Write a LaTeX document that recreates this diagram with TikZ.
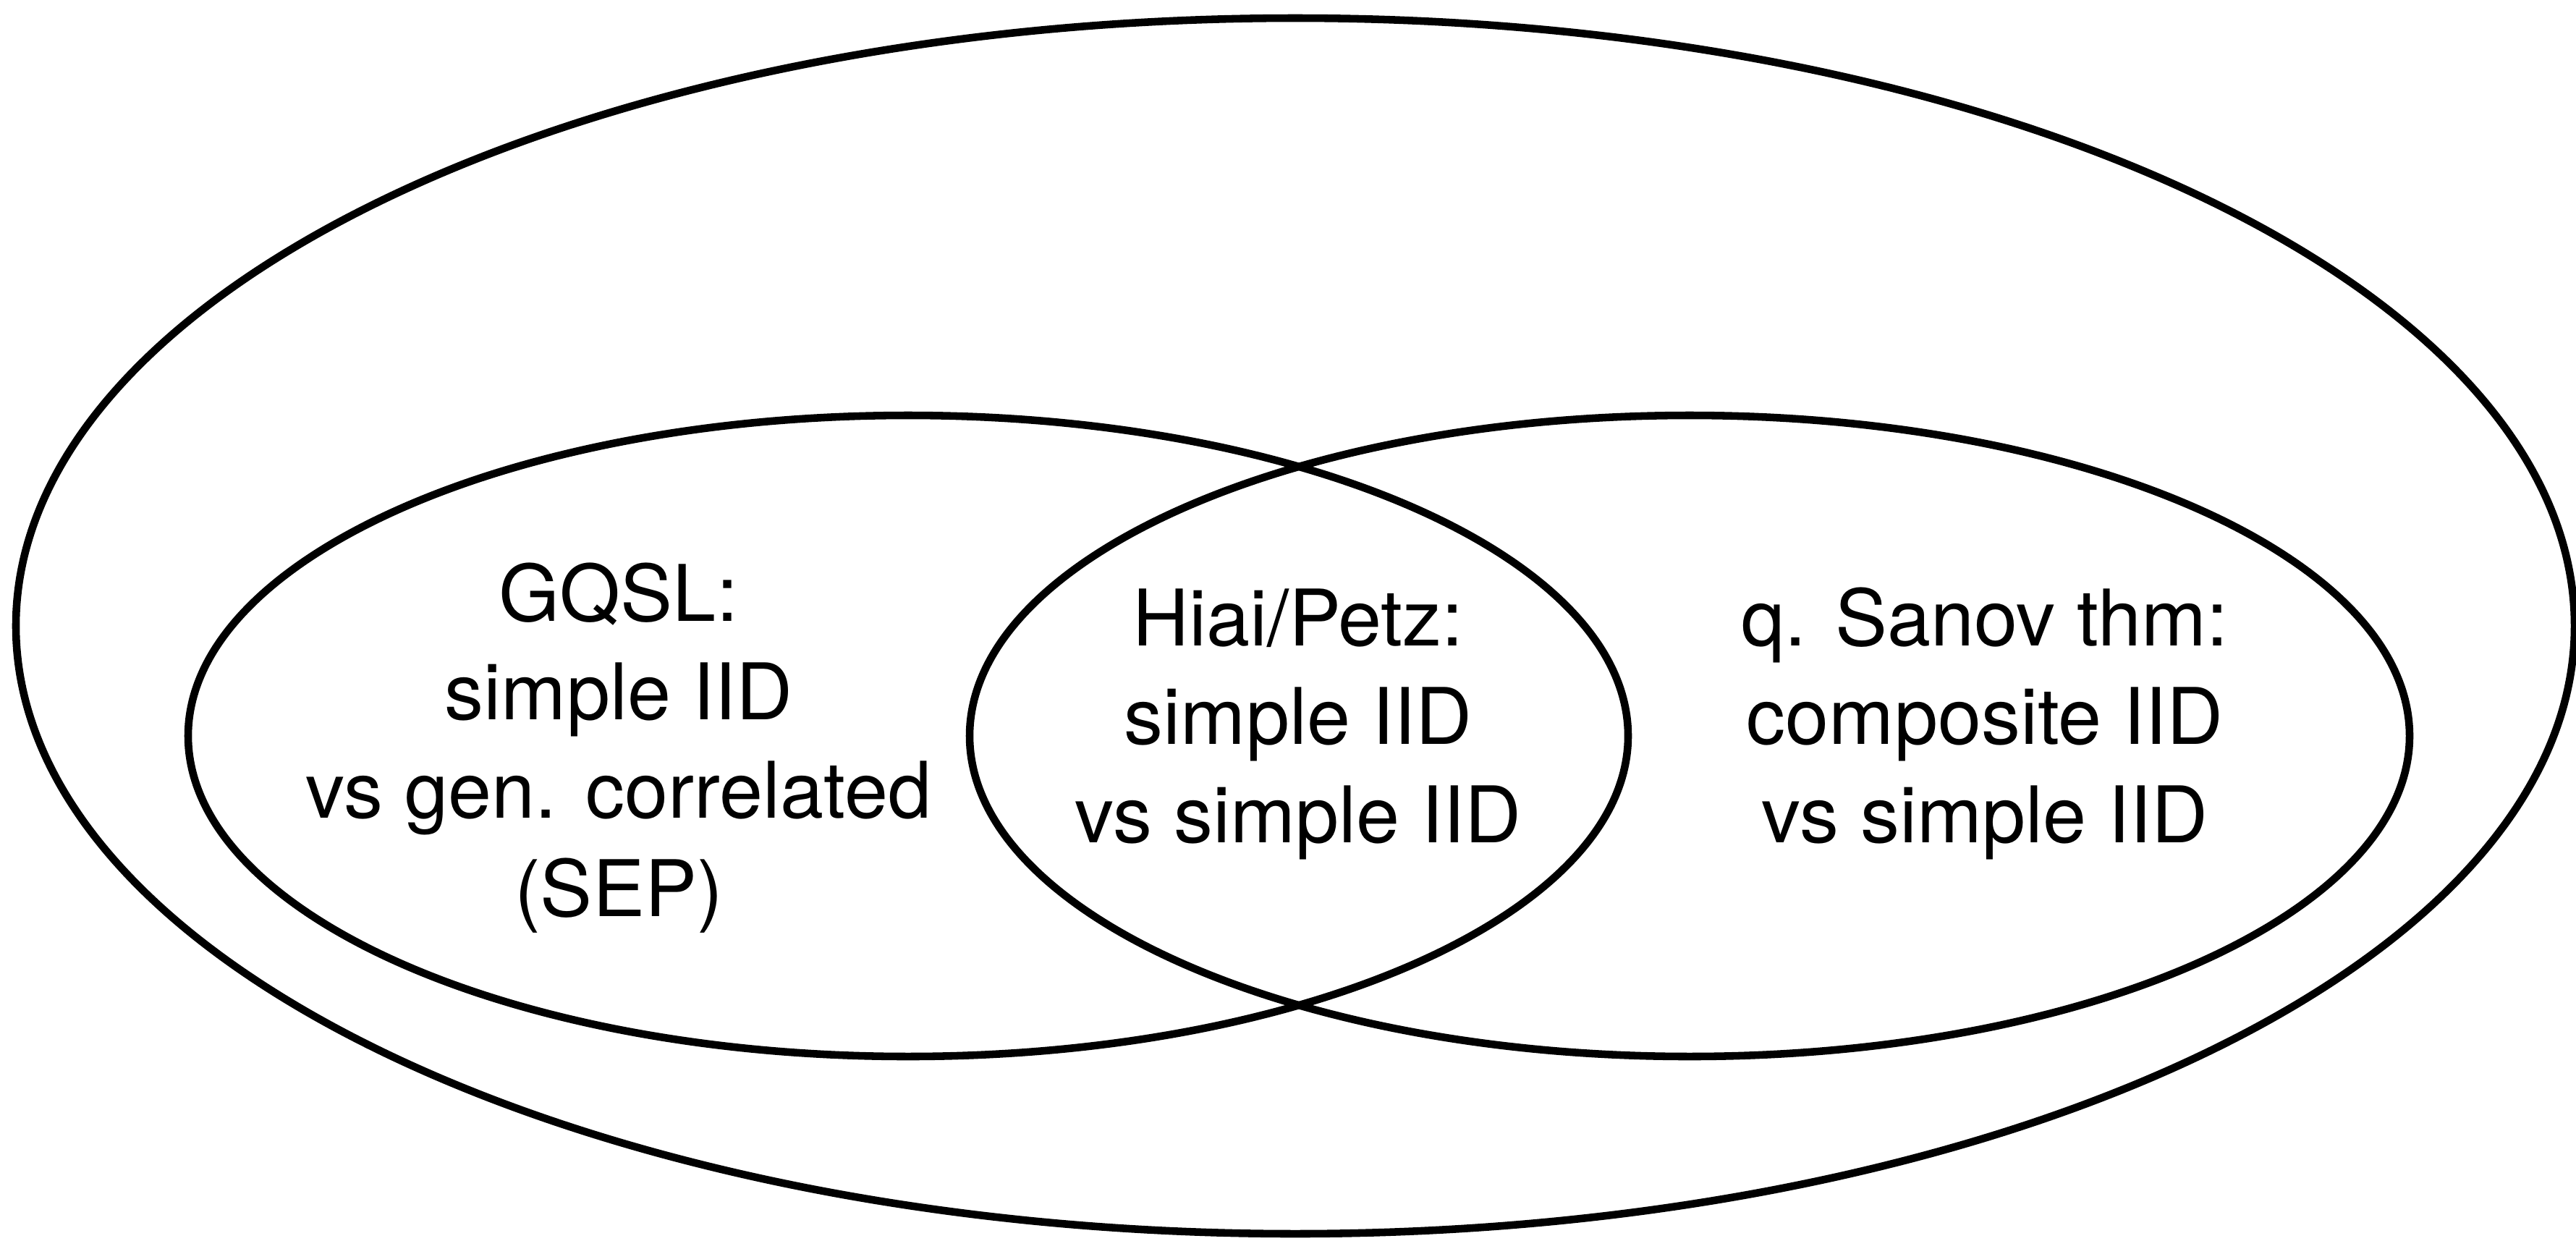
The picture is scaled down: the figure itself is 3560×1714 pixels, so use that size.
\documentclass[tikz,border=0pt]{standalone}
\usepackage{fontspec}
\setmainfont{TeX Gyre Heros}
\begin{document}
\begin{tikzpicture}[x=0.01cm,y=-0.01cm,
  setline/.style={line width=3pt},
  label/.style={anchor=base, inner sep=0pt, font=\fontsize{30.7}{38.7}\selectfont}]
\useasboundingbox (0,0) rectangle (3560,1714);
% outer set
\draw[setline] (1790,865) ellipse [x radius=1768, y radius=840];
% two overlapping sets
\draw[setline] (1255,1017) ellipse [x radius=995, y radius=443];
\draw[setline] (2335,1017) ellipse [x radius=995, y radius=443];
% texts
\node[label] (gqsl) at (855,858) {\begin{tabular}[t]{@{}c@{}}GQSL:\\simple IID\\vs gen. correlated\\(SEP)\end{tabular}};
\node[label] (hp) at (1794,892) {\begin{tabular}[t]{@{}c@{}}Hiai/Petz:\\simple IID\\vs simple IID\end{tabular}};
\node[label] (sanov) at (2743,892) {\begin{tabular}[t]{@{}c@{}}q. Sanov thm:\\composite IID\\vs simple IID\end{tabular}};
\end{tikzpicture}
\end{document}
